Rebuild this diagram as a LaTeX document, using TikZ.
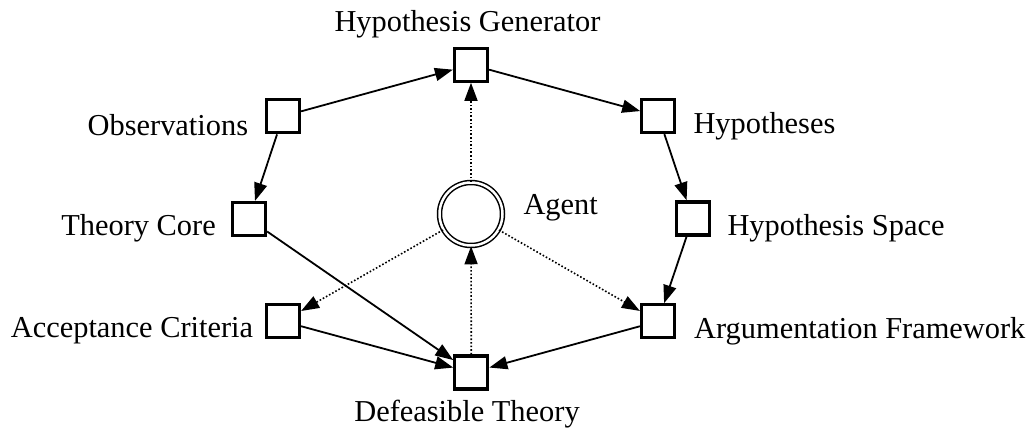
\documentclass[tikz,border=0pt]{standalone}
\usepackage{fontspec}
\setmainfont{Liberation Serif}
\usetikzlibrary{arrows.meta,shapes.geometric}

\tikzset{
  stage/.style={draw, line width=3.2pt, rectangle, minimum size=33pt, inner sep=0pt, fill=white},
  agentnode/.style={draw, line width=1.5pt, circle, double, double distance=2.5pt, minimum size=63pt, inner sep=0pt},
  lbl/.style={inner sep=0pt, font=\fontsize{30.4}{36}\selectfont},
  flow/.style={line width=1.8pt, -{Triangle[length=18pt,width=13pt]}},
  ctrl/.style={line width=1.6pt, dotted, -{Triangle[length=18pt,width=13pt]}},
}

\begin{document}
\begin{tikzpicture}[x=1pt, y=-1pt]
\useasboundingbox (0,0) rectangle (1036,432);

% nodes of the cycle
\node[stage] (gen) at (471,64.7) {};
\node[stage] (obs) at (283,116.3) {};
\node[stage] (hyp) at (658.3,116) {};
\node[stage] (core) at (249,219) {};
\node[stage] (space) at (692.7,218.4) {};
\node[stage] (acc) at (283,321.3) {};
\node[stage] (arg) at (658,321.3) {};
\node[stage] (def) at (471.3,372.5) {};
\node[agentnode] (agent) at (471,214) {};

% labels
\node[lbl, anchor=base] (tgen) at (467.5,31.7) {Hypothesis Generator};
\node[lbl, anchor=base east] (tobs) at (248.3,135) {Observations};
\node[lbl, anchor=base west] (thyp) at (693.3,133.3) {Hypotheses};
\node[lbl, anchor=base east] (tcore) at (216,235) {Theory Core};
\node[lbl, anchor=base west] (tspace) at (727.3,235.5) {Hypothesis Space};
\node[lbl, anchor=base east] (tacc) at (253.3,337) {Acceptance Criteria};
\node[lbl, anchor=base west] (targ) at (694,338) {Argumentation Framework};
\node[lbl, anchor=base west] (tagent) at (523.3,214) {Agent};
\node[lbl, anchor=base] (tdef) at (467,421) {Defeasible Theory};

% information flow
\draw[flow] (obs) -- (gen);
\draw[flow] (gen) -- (hyp);
\draw[flow] (obs) -- (core);
\draw[flow] (hyp) -- (space);
\draw[flow] (space) -- (arg);
\draw[flow] (arg) -- (def);
\draw[flow] (acc) -- (def);
\draw[flow] (core) -- (def);

% agent control
\draw[ctrl] (agent) -- (gen);
\draw[ctrl] (agent) -- (acc);
\draw[ctrl] (agent) -- (arg);
\draw[ctrl] (def) -- (agent);
\end{tikzpicture}
\end{document}
